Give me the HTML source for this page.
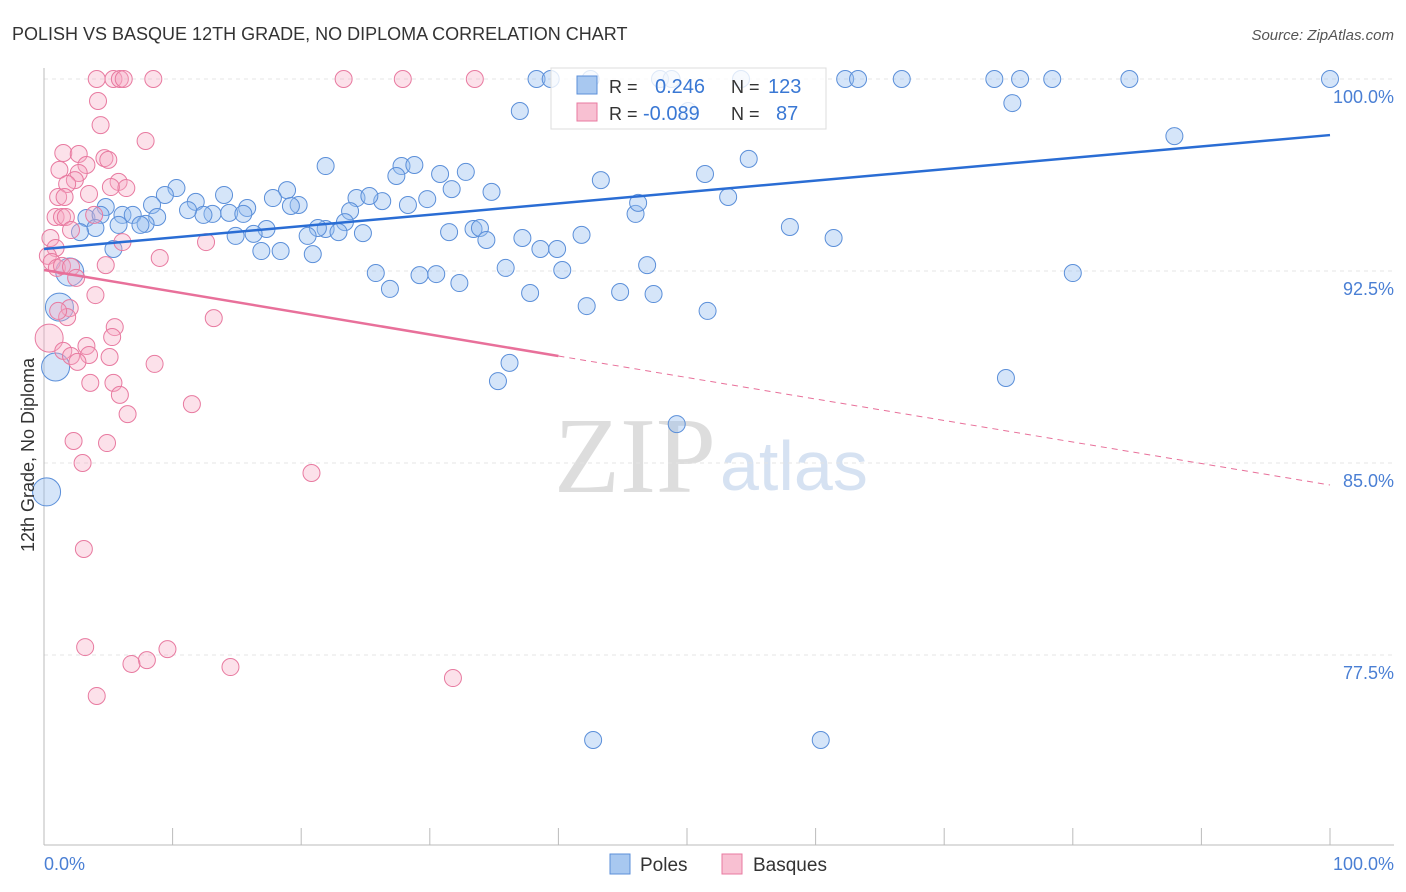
<!DOCTYPE html>
<html><head><meta charset="utf-8">
<style>
body{margin:0;background:#fff;font-family:"Liberation Sans",sans-serif;}
#wrap{position:relative;width:1406px;height:892px;overflow:hidden;}
</style></head>
<body>
<div id="wrap">
<svg id="svg" width="1406" height="892" xmlns="http://www.w3.org/2000/svg">
<text x="12" y="40" font-size="18" fill="#333">POLISH VS BASQUE 12TH GRADE, NO DIPLOMA CORRELATION CHART</text>
<text x="1394" y="40" font-size="15" fill="#555" font-style="italic" text-anchor="end">Source: ZipAtlas.com</text>
<text x="716" y="492" font-size="108" font-family="Liberation Serif,serif" fill="#ddd" text-anchor="end">ZIP</text>
<text x="720" y="490" font-size="70" fill="#d6e2f2">atlas</text>
<g id="grid"></g><g id="axes"></g><g id="pts"></g><g id="trend"></g>
<text transform="translate(34,455) rotate(-90)" font-size="18" fill="#333" text-anchor="middle">12th Grade, No Diploma</text>
<g>
<rect x="551" y="68" width="275" height="61" fill="rgba(255,255,255,0.8)" stroke="#ddd"/>
<rect x="577" y="76" width="20" height="18" fill="#a8c8f0" stroke="#5b8fd9"/>
<rect x="577" y="103" width="20" height="18" fill="#f8c0d2" stroke="#e87aa0"/>
<text x="609" y="93" font-size="18" fill="#333">R =</text>
<text x="655" y="93" font-size="20" fill="#3a78d4">0.246</text>
<text x="731" y="93" font-size="18" fill="#333">N =</text>
<text x="768" y="93" font-size="20" fill="#3a78d4">123</text>
<text x="609" y="120" font-size="18" fill="#333">R =</text>
<text x="643" y="120" font-size="20" fill="#3a78d4">-0.089</text>
<text x="731" y="120" font-size="18" fill="#333">N =</text>
<text x="776" y="120" font-size="20" fill="#3a78d4">87</text>
</g>
<g>
<rect x="610" y="854" width="20" height="20" fill="#a8c8f0" stroke="#5b8fd9"/>
<text x="640" y="871" font-size="19" fill="#333">Poles</text>
<rect x="722" y="854" width="20" height="20" fill="#f8c0d2" stroke="#e87aa0"/>
<text x="753" y="871" font-size="19" fill="#333">Basques</text>
</g>
<text x="44" y="870" font-size="18" fill="#4a7fd4">0.0%</text>
<text x="1394" y="870" font-size="18" fill="#4a7fd4" text-anchor="end">100.0%</text>
</svg>
</div>
<script>
const yTicks=[100,92.5,85,77.5];
const yTickLabels=["100.0%","92.5%","85.0%","77.5%"];
const xTicks=[0,10,20,30,40,50,60,70,80,90,100];
const polesX=[38.3,39.4,47.9,48.8,54.2,62.3,63.3,66.7,73.9,75.9,78.4,84.4,100,42.5,37.0,50.1,75.3,87.9,54.8,51.4,43.3,21.9,27.8,28.8,30.8,32.8,27.4,31.7,34.8,18.9,17.8,19.8,19.2,14.0,10.3,9.4,11.8,8.4,4.8,3.3,4.4,6.1,6.9,8.8,13.1,14.4,15.8,15.5,12.4,11.2,26.3,24.3,25.3,28.3,29.8,23.8,23.4,21.9,21.3,22.9,20.5,24.8,17.3,16.3,14.9,7.9,7.5,5.8,4.0,2.8,5.4,16.9,18.4,20.9,31.5,33.4,33.9,34.4,37.2,38.6,39.9,41.8,46.0,46.2,53.2,58.0,61.4,35.9,40.3,25.8,26.9,29.2,30.5,32.3,37.8,42.2,44.8,46.9,47.4,51.6,80.0,36.2,35.3,74.8,49.2,42.7,60.4,2.0,1.2,0.9,0.2];
const polesY=[100,100,100,100,100,100,100,100,100,100,100,100,100,100,98.75,98.75,99.06,97.77,96.88,96.29,96.05,96.6,96.6,96.64,96.29,96.37,96.21,95.7,95.59,95.66,95.35,95.08,95.04,95.47,95.74,95.47,95.2,95.08,95.0,94.57,94.69,94.69,94.69,94.61,94.73,94.77,94.96,94.73,94.69,94.88,95.23,95.35,95.43,95.08,95.31,94.84,94.41,94.14,94.18,94.02,93.87,93.98,94.14,93.95,93.87,94.34,94.3,94.3,94.18,94.02,93.36,93.28,93.28,93.16,94.02,94.14,94.18,93.71,93.79,93.36,93.36,93.91,94.73,95.16,95.39,94.22,93.79,92.62,92.54,92.42,91.8,92.34,92.38,92.03,91.64,91.13,91.68,92.73,91.6,90.94,92.42,88.91,88.2,88.32,86.52,74.18,74.18,92.46,91.09,88.75,83.87];
const polesBig=[2.0,1.2,0.9,0.2];
const basquesX=[4.1,5.4,5.9,6.2,8.5,23.3,27.9,33.5,4.2,4.4,7.9,1.5,2.7,4.7,5.0,3.3,1.2,2.7,2.4,1.8,5.8,6.4,5.2,3.5,1.1,1.6,0.9,1.4,1.7,3.9,2.1,0.5,0.9,6.1,12.6,9.0,0.3,0.6,1.0,1.4,2.1,2.5,4.8,4.0,2.0,1.8,1.1,13.2,5.5,5.3,0.4,3.3,1.5,2.1,3.5,5.1,2.6,8.6,3.6,5.4,5.9,11.5,6.5,2.3,4.9,3.0,20.8,3.1,3.2,9.6,8.0,6.8,14.5,31.8,4.1];
const basquesY=[100,100,100,100,100,100,100,100,99.14,98.2,97.58,97.11,97.07,96.91,96.84,96.64,96.45,96.33,96.05,95.9,95.98,95.74,95.78,95.51,95.39,95.39,94.61,94.61,94.61,94.69,94.1,93.79,93.4,93.63,93.63,93.01,93.09,92.85,92.62,92.7,92.66,92.23,92.73,91.56,91.05,90.7,90.94,90.66,90.31,89.92,89.88,89.57,89.38,89.18,89.22,89.14,88.95,88.87,88.13,88.13,87.66,87.3,86.91,85.86,85.78,85.0,84.61,81.64,77.81,77.73,77.3,77.15,77.03,76.6,75.9];
const polesTrend=[93.36,97.81];
const basquesTrend=[92.54,84.14];
const X=v=>44+v*12.86, Y=v=>79+(100-v)*25.6;
const NS="http://www.w3.org/2000/svg";
function mk(t,a,p){const e=document.createElementNS(NS,t);for(const k in a)e.setAttribute(k,a[k]);p.appendChild(e);return e;}
const g=document.getElementById('grid'),ax=document.getElementById('axes'),pts=document.getElementById('pts'),tr=document.getElementById('trend');
yTicks.forEach((t,i)=>{
 const l=mk('line',{x1:44,x2:1394,y1:Y(t),y2:Y(t),stroke:'#e4e4e4','stroke-dasharray':'4,4'},g);
 
 
 const tx=mk('text',{x:1394,y:Y(t)+24,'font-size':18,fill:'#4a7fd4','text-anchor':'end'},g);
 tx.textContent=yTickLabels[i];
 
 
});
const al=mk('line',{x1:44,x2:44,y1:68,y2:845,stroke:'#bbb'},ax);


const bl=mk('line',{x1:44,x2:1394,y1:845,y2:845,stroke:'#bbb'},ax);


xTicks.forEach(t=>{const l=mk('line',{x1:X(t),x2:X(t),y1:828,y2:845,stroke:'#bbb'},ax);
 
 });
polesX.forEach((x,i)=>{const big=i>=polesX.length-polesBig.length;
 const c=mk('circle',{cx:X(x),cy:Y(polesY[i]),r:big?14:8.5,fill:'rgba(150,190,240,0.4)',stroke:'#5b8fd9','stroke-width':1},pts);
 
 });
basquesX.forEach((x,i)=>{const big=i==50;
 const c=mk('circle',{cx:X(x),cy:Y(basquesY[i]),r:big?14:8.5,fill:'rgba(245,170,195,0.35)',stroke:'#e87aa0','stroke-width':1},pts);
 
 });
const pl=mk('line',{x1:X(0),y1:Y(polesTrend[0]),x2:X(100),y2:Y(polesTrend[1]),stroke:'#2a6dd4','stroke-width':2.5},tr);


const bm=basquesTrend[0]+(basquesTrend[1]-basquesTrend[0])*0.4;
const b1=mk('line',{x1:X(0),y1:Y(basquesTrend[0]),x2:X(40),y2:Y(bm),stroke:'#e8709a','stroke-width':2.5},tr);


const b2=mk('line',{x1:X(40),y1:Y(bm),x2:X(100),y2:Y(basquesTrend[1]),stroke:'#e8709a','stroke-width':1,'stroke-dasharray':'6,5'},tr);


</script>
</body></html>
